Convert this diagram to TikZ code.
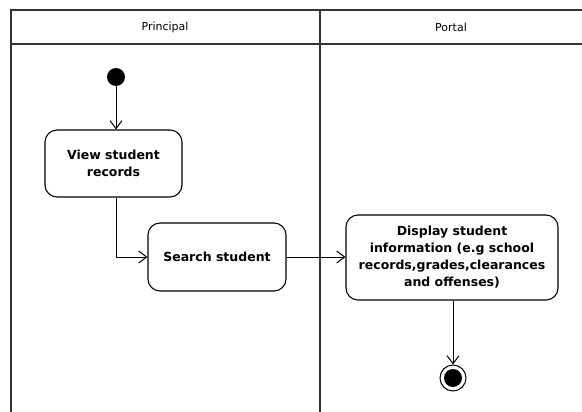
\documentclass[tikz,border=0pt]{standalone}
\usepackage{fontspec}
\setmainfont{DejaVu Sans}
\usetikzlibrary{arrows.meta}
\begin{document}
\begin{tikzpicture}[x=1pt,y=-1pt,
  lane/.style={draw=black!80, line width=1.5pt},
  act/.style={draw, line width=1.1pt, rounded corners=12pt, align=center, font=\bfseries\fontsize{12.5}{17}\selectfont, inner sep=0pt},
  flow/.style={line width=1pt, -{Straight Barb[length=8pt,width=12pt,line width=1pt]}},
  hdr/.style={font=\fontsize{11}{12}\selectfont}]
\useasboundingbox (0,0) rectangle (582,412);
% swimlanes
\draw[lane] (11,412) -- (11,10) -- (590,10);
\draw[lane] (11,44) -- (590,44);
\draw[lane] (320,10) -- (320,412);
\node[hdr] (hp) at (165,27) {Principal};
\node[hdr] (ho) at (451,27) {Portal};
% nodes
\node[circle, fill=black, minimum size=18pt, inner sep=0pt] (start) at (116,77) {};
\node[act, minimum width=137pt, minimum height=67pt] (view) at (113.5,163.5) {View student\\records};
\node[act, minimum width=138pt, minimum height=68pt] (search) at (217,257) {Search student};
\node[act, minimum width=212pt, minimum height=85pt] (disp) at (452,257.5) {Display student\\information (e.g school\\records,grades,clearances\\and offenses)};
\node[circle, draw, line width=1pt, minimum size=26pt, inner sep=0pt] (end) at (453,378) {};
\node[circle, fill=black, minimum size=18pt, inner sep=0pt] (endin) at (end.center) {};
% flows
\draw[flow] (start) -- (start |- view.north);
\draw[flow] (view.south -| start) |- (search.west);
\draw[flow] (search.east) -- (disp.west |- search.east);
\draw[flow] (disp.south -| end) -- (end.north);
\end{tikzpicture}
\end{document}
